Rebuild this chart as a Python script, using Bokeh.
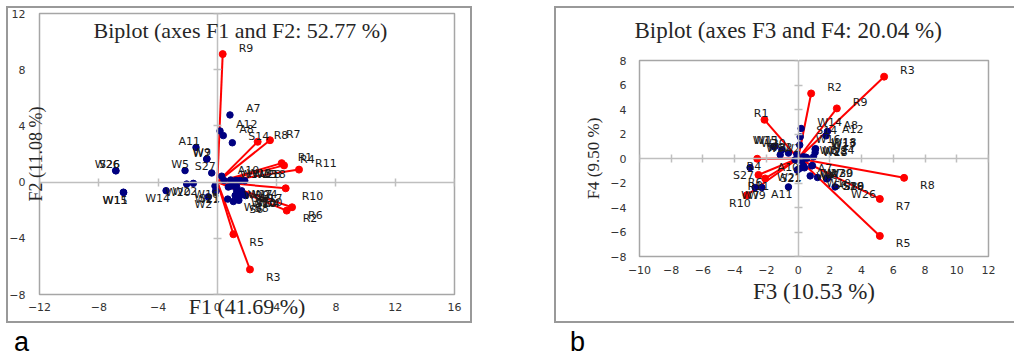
from bokeh.plotting import figure
from bokeh.models import ColumnDataSource, Label, LinearAxis, FixedTicker, Spacer, Div, Title
from bokeh.layouts import row, column
from bokeh.core.properties import value
from bokeh.embed import file_html
from bokeh.resources import INLINE

# ---------------- data ----------------
var_names = ["R1", "R2", "R3", "R4", "R5", "R6", "R7", "R8", "R9", "R10", "R11"]
var_f1 = [4.34, 4.68, 2.20, 4.50, 1.08, 5.04, 3.55, 2.72, 0.36, 4.61, 5.51]
var_f2 = [1.35, -2.03, -6.22, 1.19, -3.71, -1.79, 2.98, 2.87, 9.11, -0.44, 0.89]
var_f3 = [-2.12, 0.82, 5.42, -2.58, 5.15, -2.50, 5.15, 6.68, 2.44, -3.24, -2.08]
var_f4 = [3.16, 5.31, 6.68, -0.02, -6.32, -1.34, -3.30, -1.58, 4.09, -3.00, -1.63]

obs_names = ["A7", "A12", "A8", "S14", "A11", "W7", "W9", "W5", "S27", "W26",
             "S26", "W15", "W11", "W14", "W20", "W22", "W16", "S21", "W21", "W2",
             "A10", "W3", "W13", "W23", "W28", "W18", "W29", "W27", "W24", "W17",
             "W10", "W30", "W4", "S6", "S8", "W6", "S10", "S19"]
obs_f1 = [0.85, 0.18, 0.40, 1.01, -1.44, -0.72, -0.70, -2.18, -0.38, -6.86,
          -6.84, -6.34, -6.32, -3.46, -2.07, -1.62, -0.16, -0.09, -0.12, -0.61,
          0.29, 0.45, 0.90, 1.26, 1.55, 1.85, 0.74, 0.97, 1.30, 1.64,
          1.20, 1.64, 1.90, 1.08, 1.45, 0.70, 1.50, 1.30]
obs_f2 = [4.78, 3.64, 3.31, 2.80, 2.47, 1.63, 1.66, 0.82, 0.65, 0.82,
          0.80, -0.72, -0.74, -0.61, -0.14, -0.09, -0.28, -0.63, -0.66, -1.05,
          0.42, 0.12, 0.15, 0.12, 0.12, 0.10, -0.35, -0.28, -0.32, -0.62,
          -0.95, -0.91, -0.96, -1.38, -1.30, -1.21, -0.95, -0.60]
obs_f3 = [0.23, 1.76, 1.85, 0.13, -0.61, -2.71, -2.29, -1.13, -3.03, 2.33,
          1.81, -1.55, -1.45, 0.19, -1.03, -0.61, 0.10, -0.05, -0.02, -0.08,
          -0.19, 0.34, 1.07, 0.55, 0.50, 1.10, 0.86, 0.34, 0.97, 1.07,
          0.76, 0.90, 0.13, 1.22, 1.85, 0.40, 1.83, 1.80]
obs_f4 = [-0.19, 1.85, 2.21, 1.77, -2.32, -2.37, -2.37, 0.30, -0.74, -2.32,
          -1.63, 0.98, 1.00, 2.45, 0.71, 0.44, 1.10, -0.95, -0.90, 0.35,
          -0.11, 0.14, 0.76, 0.03, 0.10, 0.80, -0.60, -0.60, 0.14, 0.49,
          -1.42, -0.58, -0.79, -1.55, -1.62, -0.76, -1.60, -1.66]

ticks_f1 = [-12, -8, -4, 0, 4, 8, 12, 16]
ticks_f2 = [-8, -4, 0, 4, 8, 12]
ticks_f3 = [-10, -8, -6, -4, -2, 0, 2, 4, 6, 8, 10, 12]
ticks_f4 = [-8, -6, -4, -2, 0, 2, 4, 6, 8]

title_a = "Biplot (axes F1 and F2: 52.77 %)"
title_b = "Biplot (axes F3 and F4: 20.04 %)"
xlab_a, ylab_a = "F1 (41.69 %)", "F2 (11.08 %)"
xlab_b, ylab_b = "F3 (10.53 %)", "F4 (9.50 %)"

# ---------------- styling ----------------
RED = "#ff0000"
BLUE = "#000080"
AXGREY = "#bfbfbf"
TXT = "#1a1a1a"
TITLE_C = "#262626"
SERIF = "Liberation Serif"
SANS = "DejaVu Sans"


def add_labels(p, names, xs, ys):
    groups = {}
    for n, x, y in zip(names, xs, ys):
        key = (x >= 0, y >= 0)
        g = groups.setdefault(key, {"x": [], "y": [], "t": []})
        g["x"].append(x)
        g["y"].append(y)
        g["t"].append(n)
    for (pos_x, pos_y), d in groups.items():
        p.text(x="x", y="y", text="t", source=ColumnDataSource(d),
               text_align="left" if pos_x else "right",
               x_offset=16 if pos_x else 4,
               y_offset=-6 if pos_y else 8,
               text_baseline="middle",
               text_font=value(SANS), text_font_size=value("11px"),
               text_color=TXT)


def make_panel(vx, vy, ox, oy, xticks, yticks, xlab, ylab,
               width, height, borders, xstand, ystand,
               xl_stand, yl_stand, xfont, yfont):
    p = figure(width=width, height=height,
               x_range=(xticks[0], xticks[-1]), y_range=(yticks[0], yticks[-1]),
               output_backend="svg", toolbar_location=None, title=None,
               min_border_left=borders[0], min_border_right=borders[1],
               min_border_top=borders[2], min_border_bottom=borders[3],
               background_fill_color="white", border_fill_color="white",
               frame_align=False,
               styles={"box-shadow": "0 0 0 2px #999999"})
    p.xgrid.visible = False
    p.ygrid.visible = False
    p.outline_line_color = "#a6a6a6"
    p.outline_line_width = 1.5

    # tick labels at the frame edges
    for ax, tk, st in ((p.xaxis, xticks, xstand), (p.yaxis, yticks, ystand)):
        ax.ticker = FixedTicker(ticks=tk)
        ax.axis_line_color = None
        ax.major_tick_line_color = None
        ax.minor_tick_line_color = None
        ax.major_tick_in = 0
        ax.major_tick_out = 0
        ax.major_label_standoff = st
        ax.major_label_text_font = SANS
        ax.major_label_text_font_size = "11px"
        ax.major_label_text_color = "#333333"
        ax.axis_label_text_font = SERIF
        ax.axis_label_text_font_style = "normal"
        ax.axis_label_text_color = TITLE_C

    p.xaxis.axis_label = xlab
    p.xaxis.axis_label_standoff = xl_stand
    p.xaxis.axis_label_text_font_size = xfont
    p.yaxis.axis_label = ylab
    p.yaxis.axis_label_standoff = yl_stand
    p.yaxis.axis_label_text_font_size = yfont

    # zero axes crossing the plot
    for loc, tk in (("below", xticks), ("left", yticks)):
        za = LinearAxis(fixed_location=0, ticker=FixedTicker(ticks=tk),
                        axis_line_color=AXGREY, axis_line_width=1.5,
                        major_tick_line_color=AXGREY, major_tick_line_width=1.5,
                        major_tick_in=4, major_tick_out=4,
                        minor_tick_line_color=None,
                        major_label_text_color=None)
        p.add_layout(za, loc)

    vsrc = ColumnDataSource(dict(x=vx, y=vy))
    p.segment(x0=0, y0=0, x1="x", y1="y", source=vsrc, line_color=RED, line_width=2)
    p.scatter("x", "y", source=vsrc, size=7, color=RED)
    osrc = ColumnDataSource(dict(x=ox, y=oy))
    p.scatter("x", "y", source=osrc, size=6.5, color=BLUE)

    add_labels(p, obs_names, ox, oy)
    add_labels(p, var_names, vx, vy)
    return p


pa = make_panel(var_f1, var_f2, obs_f1, obs_f2, ticks_f1, ticks_f2,
                xlab_a, ylab_a, 462, 313, (31, 16, 5, 22),
                8, 14, -20, -40, "22px", "18px")
# title of panel a sits inside the plot area
pa.add_layout(Label(x=1.56, y=10.81, text=title_a,
                    text_align="center", text_baseline="middle",
                    text_font=SERIF, text_font_size="22px", text_color=TITLE_C))

pb = make_panel(var_f3, var_f4, obs_f3, obs_f4, ticks_f3, ticks_f4,
                xlab_b, ylab_b, 458, 313, (83, 26, 52, 65),
                9, 13, 2, 4, "23px", "17px")
# empty band between the plot area and the title of panel b (white tick on white)
gap_axis = LinearAxis(ticker=FixedTicker(ticks=[0]), axis_line_color=None,
                      major_tick_line_color="white", minor_tick_line_color=None,
                      major_tick_in=0, major_tick_out=17,
                      major_label_standoff=0, major_label_text_color=None,
                      major_label_text_font_size="1px")
pb.add_layout(gap_axis, "above")
pb.add_layout(Title(text=title_b, text_font=SERIF, text_font_size="23px",
                    text_font_style="normal", text_color=TITLE_C,
                    align="left", offset=-5, vertical_align="middle",
                    standoff=0), "above")

lab_style = ("font-family:'Liberation Sans';font-size:27px;line-height:26px;"
             "padding-top:3px;color:#000000;")
div_a = Div(text=f'<div style="{lab_style}margin-left:1px">a</div>', width=548, height=34)
div_b = Div(text=f'<div style="{lab_style}margin-left:-1px">b</div>', width=458, height=34)

layout = column(Spacer(width=1014, height=8),
                row(Spacer(width=8, height=313), pa, Spacer(width=86, height=313), pb),
                row(Spacer(width=8, height=34), div_a, div_b))

open("out.html", "w").write(file_html(layout, INLINE))
